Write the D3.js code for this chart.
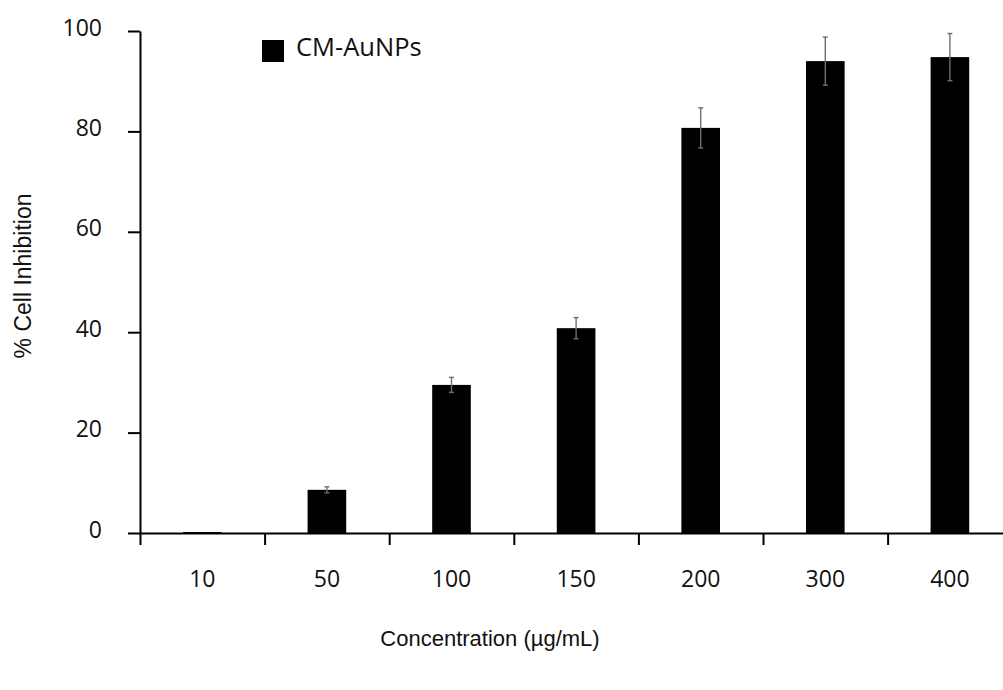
<!DOCTYPE html>
<html>
<head>
<meta charset="utf-8">
<script src="https://cdn.jsdelivr.net/npm/d3@7"></script>
<style>
  html, body { margin: 0; padding: 0; background: #fff; }
  svg { display: block; }
</style>
</head>
<body>
<svg id="chart" width="1003" height="690"></svg>
<script>
// Concentration groups (µg/mL)
const categories = ["10", "50", "100", "150", "200", "300", "400"];
// Mean % cell inhibition for CM-AuNPs
const inhibition = [0.2, 8.6, 29.5, 40.8, 80.7, 94.0, 94.8];
// Standard deviation of each mean
const errors = [0.0, 0.6, 1.5, 2.1, 4.0, 4.8, 4.7];
// Y-axis ticks
const yTicks = [0, 20, 40, 60, 80, 100];
const seriesName = "CM-AuNPs";

const svg = d3.select("#chart");

const plotLeft = 140, plotTop = 31, plotBottom = 533;
const step = 124.6;
const plotRight = plotLeft + step * categories.length;

const tickFont = "'Open Sans', 'Noto Sans', sans-serif";
const titleFont = "'Liberation Sans', Arial, sans-serif";

const x = d3.scaleBand()
  .domain(categories)
  .range([plotLeft, plotRight])
  .paddingInner(0.69)
  .paddingOuter(0.345);

// Boundaries between concentration groups, used for the x tick marks
const xEdge = d3.scaleLinear().domain([0, categories.length]).range([plotLeft, plotRight]);

const y = d3.scaleLinear().domain([0, 100]).range([plotBottom, plotTop]);

// Bars
svg.append("g")
  .selectAll("rect")
  .data(categories)
  .join("rect")
  .attr("x", d => x(d))
  .attr("width", x.bandwidth())
  .attr("y", (d, i) => y(inhibition[i]))
  .attr("height", (d, i) => y(0) - y(inhibition[i]))
  .attr("fill", "#000");

// Error bars
const eb = svg.append("g")
  .attr("stroke", "#6e6e6e")
  .attr("stroke-width", 1.4)
  .selectAll("g")
  .data(categories.map((c, i) => ({c, v: inhibition[i], e: errors[i]})).filter(d => d.e > 0))
  .join("g")
  .attr("transform", d => `translate(${x(d.c) + x.bandwidth() / 2},0)`);
eb.append("line").attr("y1", d => y(d.v + d.e)).attr("y2", d => y(d.v - d.e));
eb.append("line").attr("x1", -2.5).attr("x2", 2.5).attr("y1", d => y(d.v + d.e)).attr("y2", d => y(d.v + d.e));
eb.append("line").attr("x1", -2.5).attr("x2", 2.5).attr("y1", d => y(d.v - d.e)).attr("y2", d => y(d.v - d.e));

// X axis: line with tick marks at the group boundaries
const xTickAxis = svg.append("g")
  .attr("transform", `translate(0,${plotBottom})`)
  .call(d3.axisBottom(xEdge)
    .tickValues(d3.range(categories.length + 1))
    .tickFormat("")
    .tickSize(12)
    .tickSizeOuter(0));
xTickAxis.selectAll("path, line").attr("stroke", "#000").attr("stroke-width", 2);

// X labels centred under each bar
const xLabelAxis = svg.append("g")
  .attr("transform", `translate(0,${plotBottom})`)
  .call(d3.axisBottom(x).tickSize(0).tickPadding(38));
xLabelAxis.select(".domain").remove();
xLabelAxis.selectAll("text")
  .attr("font-family", tickFont)
  .attr("font-size", 23)
  .attr("fill", "#111");

// Y axis
const yAxis = svg.append("g")
  .attr("transform", `translate(${plotLeft},0)`)
  .call(d3.axisLeft(y).tickValues(yTicks).tickSize(12).tickSizeOuter(0).tickPadding(26));
yAxis.selectAll("path, line").attr("stroke", "#000").attr("stroke-width", 2);
yAxis.selectAll("text")
  .attr("font-family", tickFont)
  .attr("font-size", 23)
  .attr("fill", "#111")
  .attr("dy", "0.18em");

// Axis titles
svg.append("text")
  .attr("x", 490)
  .attr("y", 646)
  .attr("text-anchor", "middle")
  .attr("font-family", titleFont)
  .attr("font-size", 22)
  .attr("fill", "#111")
  .text("Concentration  (µg/mL)");

svg.append("text")
  .attr("transform", "translate(31,276) rotate(-90)")
  .attr("text-anchor", "middle")
  .attr("font-family", titleFont)
  .attr("font-size", 23)
  .attr("fill", "#111")
  .text("% Cell Inhibition");

// Legend
const legend = svg.append("g").attr("transform", "translate(262,40)");
legend.append("rect").attr("width", 22).attr("height", 22).attr("fill", "#000");
legend.append("text")
  .attr("x", 34)
  .attr("y", 16)
  .attr("font-family", tickFont)
  .attr("font-size", 25.5)
  .attr("fill", "#111")
  .text(seriesName);
</script>
</body>
</html>
